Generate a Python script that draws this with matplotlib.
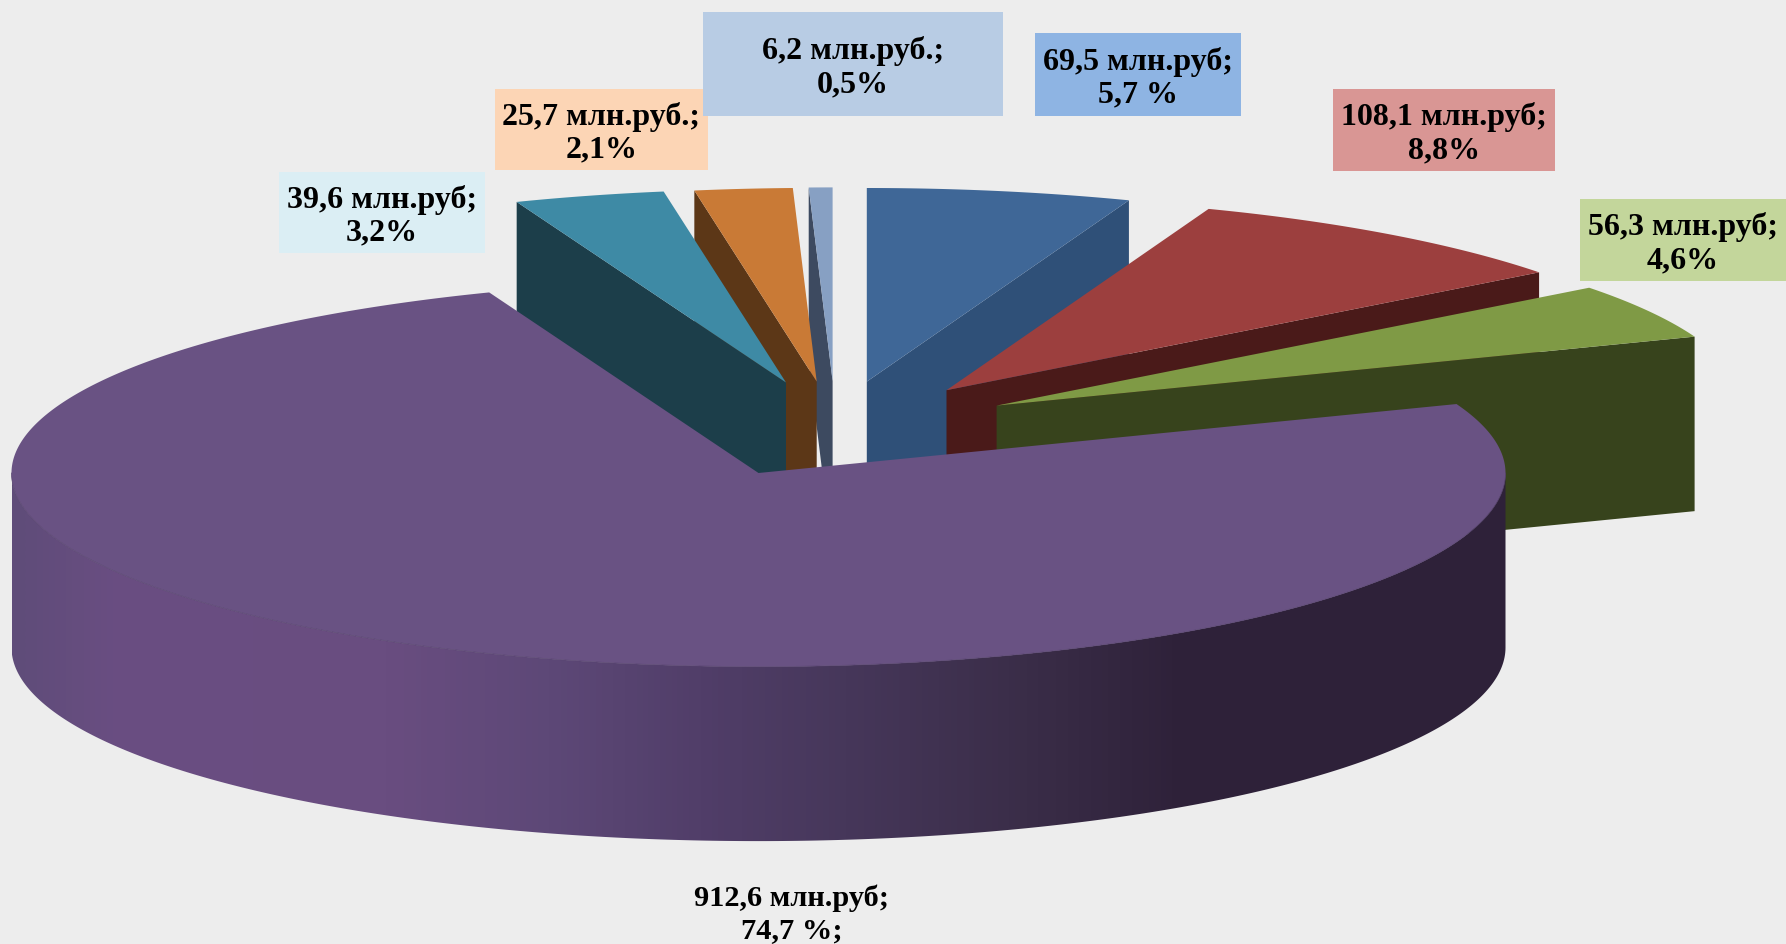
import numpy as np
import matplotlib
matplotlib.use("Agg")
import matplotlib.pyplot as plt
from matplotlib.patches import Polygon, Rectangle
from matplotlib.colors import LinearSegmentedColormap

# ---- data ----
categories = ["blue", "red", "green", "purple", "teal", "orange", "steel"]
values = [69.5, 108.1, 56.3, 912.6, 39.6, 25.7, 6.2]
labels = ["69,5 млн.руб;\n5,7 %", "108,1 млн.руб;\n8,8%", "56,3 млн.руб;\n4,6%",
          "912,6 млн.руб;\n74,7 %;", "39,6 млн.руб;\n3,2%", "25,7 млн.руб.;\n2,1%",
          "6,2 млн.руб.;\n0,5%"]

# ---- style / layout ----
BG = "#EDEDED"
top_col = dict(blue="#3F6797", red="#9C3F3E", green="#7F9A45", purple="#695283",
               teal="#3E8AA5", orange="#C97A36", steel="#87A0C3")
wall_col = dict(blue="#2F5078", red="#4A1A19", green="#37431C", purple="#2E2139",
                teal="#1C3E4A", orange="#5C3717", steel="#3D4A60")
apex = dict(blue=(866.8, 382.6), red=(946.5, 391.2), green=(996.6, 406.6),
            purple=(758.5, 474.0), teal=(786.0, 383.5), orange=(816.7, 382.5),
            steel=(832.6, 382.0))
box = dict(blue=(1035, 34, 1241, 117), red=(1333, 90, 1555, 172), green=(1580, 200, 1786, 282),
           teal=(279, 173, 485, 254), orange=(495, 90, 708, 171), steel=(703, 13, 1003, 117))
box_col = dict(blue="#8EB4E3", red="#D99694", green="#C3D69B", teal="#DBEEF4",
               orange="#FCD5B5", steel="#B8CCE4")
purple_label_xy = (792, 914)
RX, RY, DEPTH = 747.0, 193.6, 174.5
FS_BOX = 23.0
FS_PURPLE = 21.9
TEXT_DY = 2.5
draw_order = ["steel", "orange", "teal", "blue", "red", "green", "purple"]
wall_stops = [(0.0, "#5F4C79"), (0.07, "#6A4E82"), (0.25, "#694D80"), (0.36, "#5D4877"),
              (0.46, "#513E69"), (0.56, "#46375A"), (0.68, "#3A2D48"), (0.78, "#2F223A"),
              (1.0, "#2E2139")]

# ---- angles from values: clockwise from the top ----
vals = np.array(values, float)
sweeps = vals / vals.sum() * 360.0
starts = 90.0 - np.concatenate(([0.0], np.cumsum(sweeps)[:-1]))
ends = starts - sweeps


def ell(cx, cy, deg):
    t = np.radians(deg)
    return np.column_stack((cx + RX * np.cos(t), cy - RY * np.sin(t)))


fig = plt.figure(figsize=(17.86, 9.45), dpi=100, facecolor=BG)
ax = fig.add_axes([0, 0, 1, 1])
ax.set_facecolor(BG)
ax.axis("off")

for name in draw_order:
    i = categories.index(name)
    cx, cy = apex[name]
    a0, a1 = starts[i], ends[i]
    arc = ell(cx, cy, np.linspace(a0, a1, max(int(abs(a1 - a0) * 3), 8)))
    centre = np.array([[cx, cy]])
    if name == "purple":
        # front wall, shaded left to right
        ts = np.linspace(180, 360, 361)
        upper = ell(cx, cy, ts)
        lower = upper + [0, DEPTH]
        poly = Polygon(np.vstack((upper, lower[::-1])), closed=True, fc="none", ec="none")
        ax.add_patch(poly)
        cmap = LinearSegmentedColormap.from_list("wall", wall_stops)
        im = ax.imshow(np.linspace(0, 1, 400)[None, :], cmap=cmap, aspect="auto",
                       extent=(cx - RX, cx + RX, 945, 0), zorder=3, vmin=0, vmax=1,
                       interpolation="bilinear")
        im.set_clip_path(poly)
        poly.set_zorder(3)
        z = 4
    else:
        # the radial side that faces the viewer
        edge_angle = a0 if name in ("steel", "orange", "teal") else a1
        outer = ell(cx, cy, np.array([edge_angle]))
        side = np.vstack((centre, outer, outer + [0, DEPTH], centre + [0, DEPTH]))
        ax.add_patch(Polygon(side, closed=True, fc=wall_col[name], ec="none", zorder=2))
        z = 2
    ax.add_patch(Polygon(np.vstack((centre, arc)), closed=True, fc=top_col[name],
                         ec="none", zorder=z))
    if name == "purple":
        ax.plot(upper[:, 0], upper[:, 1], color="#584470", lw=0.5, zorder=5)

# ---- labels ----
for name, lab in zip(categories, labels):
    if name == "purple":
        x, y = purple_label_xy
        fs, ls = FS_PURPLE, 1.25
    else:
        x0, y0, x1, y1 = box[name]
        ax.add_patch(Rectangle((x0, y0), x1 - x0, y1 - y0, fc=box_col[name], ec="none", zorder=6))
        x, y = (x0 + x1) / 2, (y0 + y1) / 2 + TEXT_DY
        fs, ls = FS_BOX, 1.18
    ax.text(x, y, lab, ha="center", va="center", family="Liberation Serif", weight="bold",
            fontsize=fs, color="black", linespacing=ls, zorder=7)

ax.set_xlim(0, 1786)
ax.set_ylim(945, 0)
fig.savefig("out.png", dpi=100, facecolor=BG)
